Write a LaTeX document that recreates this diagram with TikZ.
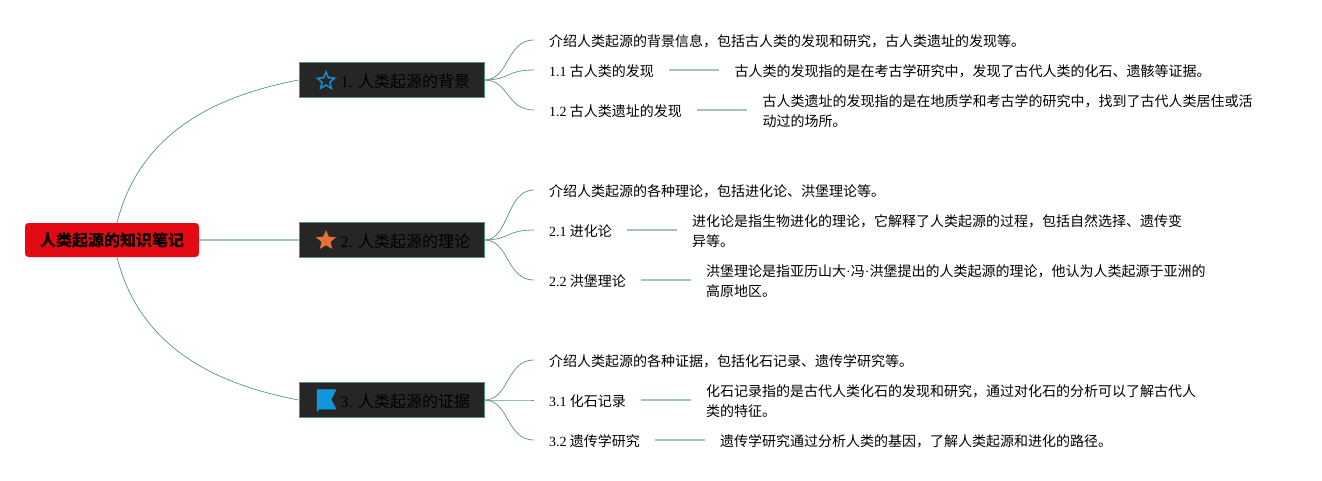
\documentclass[tikz,border=0pt]{standalone}
\usepackage{fontspec}
\setmainfont{Noto Sans CJK SC}
\newfontfamily\latfont{Liberation Serif}
\newcommand{\lat}[1]{{\latfont #1}}
\usetikzlibrary{shapes.geometric,calc}
\definecolor{curveC}{HTML}{5F9A8A}
\definecolor{lineC}{HTML}{A6C4BC}
\definecolor{rootC}{HTML}{E30A14}
\definecolor{branchC}{HTML}{262626}
\definecolor{borderC}{HTML}{5A9080}
\definecolor{blueC}{HTML}{1F87C4}
\definecolor{flagC}{HTML}{1296DB}
\definecolor{orangeC}{HTML}{E4703A}
\tikzset{
  x=1pt,y=-1pt,
  rootbox/.style={draw=none,fill=rootC,rounded corners=3.5pt,minimum width=174pt,minimum height=34pt,inner sep=0pt,font=\fontsize{16}{18}\selectfont\bfseries,text=black},
  branchbox/.style={draw=borderC,line width=0.8pt,fill=branchC,minimum width=185pt,minimum height=35pt,inner sep=0pt},
  branchtext/.style={anchor=west,inner sep=0pt,font=\fontsize{16}{18}\selectfont,text=black},
  leaf/.style={anchor=west,inner sep=0pt,align=left,font=\fontsize{14}{20}\selectfont,text=black},
  curveln/.style={draw=curveC,line width=0.75pt},
  straightln/.style={draw=lineC,line width=1.2pt},
  starshape/.style={star,star points=5,star point ratio=2.2,inner sep=0pt},
}
\begin{document}
\begin{tikzpicture}
\useasboundingbox (0,0) rectangle (1322,480);
\node[rootbox] (root) at (112,240) {人类起源的知识笔记};
\node[branchbox] (b1) at (391.5,80) {};
\node[branchbox] (b2) at (391.5,240) {};
\node[branchbox] (b3) at (391.5,400) {};
\node[branchtext] (b1t) at (340.5,81) {\lat{1. }人类起源的背景};
\node[branchtext] (b2t) at (340.5,241) {\lat{2. }人类起源的理论};
\node[branchtext] (b3t) at (340.5,401) {\lat{3. }人类起源的证据};
\node[starshape,draw=blueC,line width=1.6pt,minimum size=18pt] (i1) at (326,81) {};
\node[starshape,fill=orangeC,minimum size=21pt] (i2) at (326,240.5) {};
\draw[fill=flagC,draw=flagC,line width=0.5pt] (317,389.5) -- (336,389.5) -- (331,399.5) -- (336,409) -- (318,409) -- (318,411) -- (317,411) -- cycle;
\coordinate (rt) at (117,223);
\coordinate (rb) at (117,257);
\draw[curveln] (rt) .. controls (140,130) and (220,95) .. (b1.west);
\draw[curveln] (rb) .. controls (140,350) and (220,385) .. (b3.west);
\draw[straightln] (root.east) -- (b2.west);
% group 1
\node[leaf] (t10) at (549,41) {介绍人类起源的背景信息，包括古人类的发现和研究，古人类遗址的发现等。};
\node[leaf] (t11) at (549,71) {\lat{1.1} 古人类的发现};
\node[leaf] (t12) at (549,111) {\lat{1.2} 古人类遗址的发现};
\node[leaf] (d11) at (734.5,71) {古人类的发现指的是在考古学研究中，发现了古代人类的化石、遗骸等证据。};
\node[leaf] (d12) at (762.5,111.5) {古人类遗址的发现指的是在地质学和考古学的研究中，找到了古代人类居住或活\\动过的场所。};
\coordinate (c10) at (534,40);\coordinate (c11) at (534,70);\coordinate (c12) at (534,110);
\coordinate (s11) at (669,70);\coordinate (e11) at (719,70);
\coordinate (s12) at (697,110);\coordinate (e12) at (747,110);
% group 2
\node[leaf] (t20) at (549,191) {介绍人类起源的各种理论，包括进化论、洪堡理论等。};
\node[leaf] (t21) at (549,231) {\lat{2.1} 进化论};
\node[leaf] (t22) at (549,281) {\lat{2.2} 洪堡理论};
\node[leaf] (d21) at (692,231) {进化论是指生物进化的理论，它解释了人类起源的过程，包括自然选择、遗传变\\异等。};
\node[leaf] (d22) at (706,281) {洪堡理论是指亚历山大\lat{·}冯\lat{·}洪堡提出的人类起源的理论，他认为人类起源于亚洲的\\高原地区。};
\coordinate (c20) at (534,190);\coordinate (c21) at (534,230);\coordinate (c22) at (534,280);
\coordinate (s21) at (627,230);\coordinate (e21) at (677,230);
\coordinate (s22) at (641,280);\coordinate (e22) at (691,280);
% group 3
\node[leaf] (t30) at (549,361) {介绍人类起源的各种证据，包括化石记录、遗传学研究等。};
\node[leaf] (t31) at (549,401) {\lat{3.1} 化石记录};
\node[leaf] (t32) at (549,441) {\lat{3.2} 遗传学研究};
\node[leaf] (d31) at (706,401) {化石记录指的是古代人类化石的发现和研究，通过对化石的分析可以了解古代人\\类的特征。};
\node[leaf] (d32) at (720,441) {遗传学研究通过分析人类的基因，了解人类起源和进化的路径。};
\coordinate (c30) at (534,360);\coordinate (c31) at (534,400);\coordinate (c32) at (534,440);
\coordinate (s31) at (641,400);\coordinate (e31) at (691,400);
\coordinate (s32) at (655,440);\coordinate (e32) at (705,440);
% connectors
\foreach \g/\b in {1/b1,2/b2,3/b3}{
  \foreach \k in {0,1,2}{
    \draw[curveln] (\b.east) .. controls ($(\b.east)+(25,0)$) and ($(c\g\k)+(-28,0)$) .. (c\g\k);
  }
}
\foreach \a in {11,12,21,22,31,32}{\draw[straightln] (s\a) -- (e\a);}
\end{tikzpicture}
\end{document}
